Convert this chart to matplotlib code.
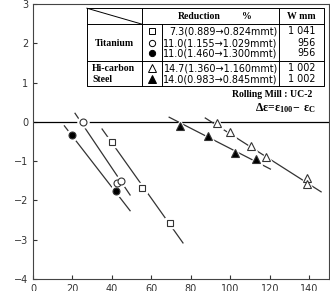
import matplotlib
matplotlib.use("Agg")
import matplotlib.pyplot as plt

# measured points (x, delta epsilon)
sq_x = [40, 55.3, 69.5]
sq_y = [-0.51, -1.68, -2.57]
oc_x = [25.4, 42.6, 44.6]
oc_y = [0.0, -1.55, -1.5]
fc_x = [19.7, 42.1]
fc_y = [-0.33, -1.77]
ft_x = [74.3, 88.6, 102.5, 113]
ft_y = [-0.11, -0.36, -0.78, -0.95]
ot_x = [93.2, 100, 110.5, 118, 138.6, 138.9]
ot_y = [-0.03, -0.26, -0.61, -0.9, -1.44, -1.58]

# fitted lines (end points)
sq_line_x = [35, 76]
sq_line_y = [-0.18, -3.08]
oc_line_x = [21.3, 49.2]
oc_line_y = [0.22, -1.86]
fc_line_x = [15.9, 49.2]
fc_line_y = [-0.1, -2.26]
ft_line_x = [69, 120.3]
ft_line_y = [0.12, -1.2]
ot_line_x = [87.3, 146]
ot_line_y = [0.1, -1.78]

y_ticks = [3, 2, 1, 0, -1, -2, -3, -4]
y_labels = ["3", "2", "1", "0", "−1", "−2", "−3", "−4"]
x_ticks = [0, 20, 40, 60, 80, 100, 120, 140]

rows = [
    ("s", "white", "7.3(0.889\u21920.824mmt)", "1 041"),
    ("o", "white", "11.0(1.155\u21921.029mmt)", "956"),
    ("o", "black", "11.0(1.460\u21921.300mmt)", "956"),
    ("^", "white", "14.7(1.360\u21921.160mmt)", "1 002"),
    ("^", "black", "14.0(0.983\u21920.845mmt)", "1 002"),
]

plt.rcParams['mathtext.fontset'] = 'custom'
plt.rcParams['mathtext.rm'] = 'Liberation Serif:bold'
plt.rcParams['mathtext.it'] = 'Liberation Serif:bold'

fig = plt.figure(figsize=(3.3, 2.91), dpi=100)
ax = fig.add_axes([0.1, 0.041, 0.897, 0.945])

ax.axhline(0, color="black", lw=0.9)

series = [
    (sq_x, sq_y, sq_line_x, sq_line_y, "s", "white", 4.5),
    (oc_x, oc_y, oc_line_x, oc_line_y, "o", "white", 5),
    (fc_x, fc_y, fc_line_x, fc_line_y, "o", "black", 5),
    (ft_x, ft_y, ft_line_x, ft_line_y, "^", "black", 6),
    (ot_x, ot_y, ot_line_x, ot_line_y, "^", "white", 6),
]
for xs, ys, lx, ly, m, fc, ms in series:
    ax.plot(lx, ly, color="#333333", lw=0.9, zorder=2)
    ax.plot(xs, ys, m, ms=ms + 3, mfc="white", mec="white", zorder=3)
    ax.plot(xs, ys, m, ms=ms, mfc=fc, mec="#333333", mew=0.8, zorder=4)

ax.set_xlim(0, 150)
ax.set_ylim(-4, 3)
ax.set_yticks(y_ticks)
ax.set_yticklabels(y_labels)
ax.set_xticks(x_ticks)
ax.tick_params(direction="in", length=3, labelsize=7, colors="#333333")
for s in ax.spines.values():
    s.set_color("#444444")
    s.set_linewidth(0.8)

# table box
T = ax.transAxes
L, R, TOP, BOT = 0.182, 0.983, 0.985, 0.702
c1, c2, c3 = 0.368, 0.436, 0.831
h1, h2 = 0.927, 0.793
lw = 0.7
ax.plot([L, R, R, L, L], [TOP, TOP, BOT, BOT, TOP], color="black", lw=lw, transform=T, zorder=5)
ax.plot([c1, c1], [TOP, BOT], color="black", lw=lw, transform=T, zorder=5)
ax.plot([c2, c2], [h1, BOT], color="black", lw=lw, transform=T, zorder=5)
ax.plot([c3, c3], [TOP, BOT], color="black", lw=lw, transform=T, zorder=5)
ax.plot([L, R], [h1, h1], color="black", lw=lw, transform=T, zorder=5)
ax.plot([L, R], [h2, h2], color="black", lw=lw, transform=T, zorder=5)
ax.plot([L, c1], [TOP, h1], color="black", lw=lw, transform=T, zorder=5)

serif = dict(family="Liberation Serif", fontweight="bold", fontsize=7)
ax.text(0.56, 0.956, "Reduction", ha="center", va="center", transform=T, **serif)
ax.text(0.723, 0.956, "%", ha="center", va="center", transform=T, **serif)
ax.text(0.905, 0.956, "W mm", ha="center", va="center", transform=T, **serif)
ax.text(0.274, 0.858, "Titanium", ha="center", va="center", transform=T, **serif)
ax.text(0.2, 0.767, "Hi-carbon", ha="left", va="center", transform=T, **serif)
ax.text(0.2, 0.727, "Steel", ha="left", va="center", transform=T, **serif)

row_y = [0.902, 0.858, 0.822, 0.767, 0.727]
for (m, fc, txt, w), yy in zip(rows, row_y):
    ax.plot([0.402], [yy], m, ms=4.5 if m != "^" else 6, mfc=fc, mec="black",
            mew=0.7, transform=T, clip_on=False, zorder=6)
    ax.text(0.827, yy, txt, ha="right", va="center", fontsize=6.9,
            transform=T, zorder=6)
    ax.text(0.955, yy, w, ha="right", va="center", fontsize=6.9,
            transform=T, zorder=6)

ax.text(0.943, 0.672, "Rolling Mill : UC-2", ha="right", va="center", transform=T, **serif)
ax.text(0.953, 0.622, r"$\Delta\varepsilon\!=\!\varepsilon_{100}\!-\,\varepsilon_{\rm C}$",
        ha="right", va="center", fontsize=8.5, transform=T)

fig.savefig("out.png", dpi=100)
